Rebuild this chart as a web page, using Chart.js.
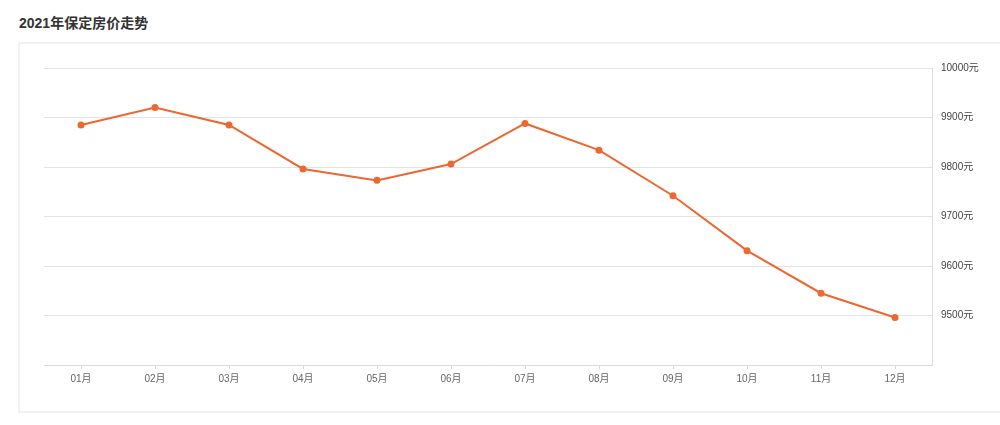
<!DOCTYPE html>
<html>
<head>
<meta charset="utf-8">
<script src="https://cdn.jsdelivr.net/npm/chart.js@4/dist/chart.umd.min.js"></script>
<style>
    html, body {
        margin: 0;
        padding: 0;
        background: #fff;
        width: 1000px;
        height: 425px;
        overflow: hidden;
        font-family: Helvetica, Arial, "Noto Sans CJK SC", sans-serif;
    }
    #title {
        position: absolute;
        left: 19px;
        top: 12px;
        font-size: 14px;
        font-weight: bold;
        color: #333;
    }
    #box {
        position: absolute;
        left: 18px;
        top: 42px;
        width: 1000px;
        height: 367px;
        border: 2px solid #f2f2f2;
    }
    #wrap {
        position: absolute;
        left: 0;
        top: 0;
        width: 1000px;
        height: 425px;
    }
</style>
</head>
<body>
<div id="title">2021年保定房价走势</div>
<div id="box"></div>
<div id="wrap"><canvas id="chart"></canvas></div>
<script>
const months = ['01月', '02月', '03月', '04月', '05月', '06月', '07月', '08月', '09月', '10月', '11月', '12月'];
const prices = [9885, 9920, 9885, 9796, 9773, 9806, 9888, 9834, 9742, 9631, 9545, 9496];
const yMin = 9400;
const yMax = 10000;
const yStep = 100;

const lineColor = 'rgb(236,104,48)';

let ctx = document.getElementById('chart').getContext('2d');
let chart = new Chart(ctx, {
    type: 'line',
    data: {
        labels: months,
        datasets: [
            {
                label: '房价',
                data: prices,
                borderColor: lineColor,
                backgroundColor: lineColor,
                borderWidth: 2,
                pointRadius: 3.5,
                pointHoverRadius: 4,
                pointBorderWidth: 0,
                tension: 0
            }
        ]
    },
    options: {
        responsive: true,
        maintainAspectRatio: false,
        animation: false,
        layout: {
            padding: {left: 44, top: 68, right: 0, bottom: 36}
        },
        plugins: {
            legend: {display: false},
            tooltip: {enabled: false}
        },
        scales: {
            x: {
                offset: true,
                grid: {
                    drawOnChartArea: false,
                    drawTicks: true,
                    tickLength: 4,
                    color: '#d8d8d8'
                },
                border: {display: true, color: '#dcdcdc'},
                ticks: {
                    padding: 4,
                    color: '#666',
                    font: {size: 10, family: 'Helvetica, Arial, "Noto Sans CJK SC", sans-serif'}
                }
            },
            y: {
                position: 'right',
                min: yMin,
                max: yMax,
                afterFit: function (scale) {
                    scale.width = 68;
                },
                grid: {
                    drawTicks: false,
                    color: '#e3e3e3'
                },
                border: {display: true, color: '#dcdcdc'},
                ticks: {
                    stepSize: yStep,
                    padding: 9,
                    color: '#444',
                    font: {size: 10, family: 'Helvetica, Arial, "Noto Sans CJK SC", sans-serif'},
                    callback: function (value) {
                        return value === yMin ? '' : value + '元';
                    }
                }
            }
        }
    }
});
</script>
</body>
</html>
